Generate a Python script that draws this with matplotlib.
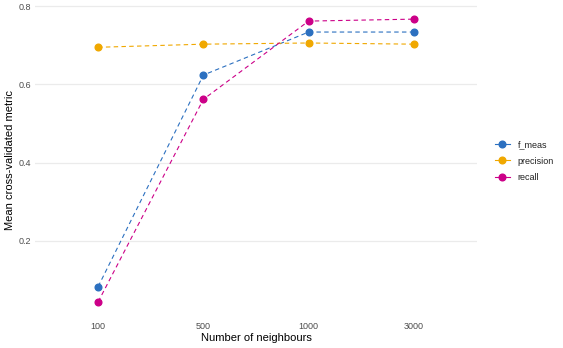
import matplotlib
matplotlib.use("Agg")
import matplotlib.pyplot as plt
from matplotlib.lines import Line2D

neighbours = ["100", "500", "1000", "3000"]
f_meas = [0.083, 0.624, 0.734, 0.734]
precision = [0.695, 0.703, 0.706, 0.703]
recall = [0.044, 0.562, 0.762, 0.767]
series_names = ["f_meas", "precision", "recall"]
series_values = [f_meas, precision, recall]
colors = ["#2C70C0", "#F0A800", "#CC0088"]

plt.rcParams['font.family'] = ['Liberation Sans', 'DejaVu Sans']

fig = plt.figure(figsize=(5.63, 3.48), dpi=100)
ax = fig.add_axes([35/563, 1-316/348, (477-35)/563, (316-5)/348])

x = list(range(len(neighbours)))
for name, vals, c in zip(series_names, series_values, colors):
    ax.plot(x, vals, linestyle=(0, (4, 3)), color=c, linewidth=0.8, zorder=2)
    ax.plot(x, vals, linestyle='none', marker='o', color=c, markersize=4.8, zorder=3)

ax.set_xlim(-0.6, 3.6)
ymin = min(min(v) for v in series_values)
ymax = max(max(v) for v in series_values)
rng = ymax - ymin
ax.set_ylim(ymin - 0.05*rng, ymax + 0.05*rng)
ax.set_xticks(x)
ax.set_xticklabels(neighbours)
ax.set_yticks([0.2, 0.4, 0.6, 0.8])
ax.set_yticklabels(["0.2", "0.4", "0.6", "0.8"])
ax.tick_params(axis='both', length=0, labelsize=6.5, labelcolor="#4D4D4D", pad=4)
ax.tick_params(axis='y', pad=3)
ax.grid(axis='y', color="#EBEBEB", linewidth=0.9)
ax.set_axisbelow(True)
for s in ax.spines.values():
    s.set_visible(False)
ax.set_xlabel("Number of neighbours", fontsize=8, labelpad=2)
ax.set_ylabel("Mean cross-validated metric", fontsize=8, labelpad=2)

handles = [Line2D([0], [0], color=c, linestyle='-', linewidth=0.8, marker='o', markersize=4.8)
           for c in colors]
fig.legend(handles, series_names, loc='center left', bbox_to_anchor=(487/563, 1-161/348),
           frameon=False, fontsize=6.5, handlelength=1.6, handletextpad=0.9,
           labelspacing=0.8, labelcolor="#222222")

fig.savefig("out.png", dpi=100)
